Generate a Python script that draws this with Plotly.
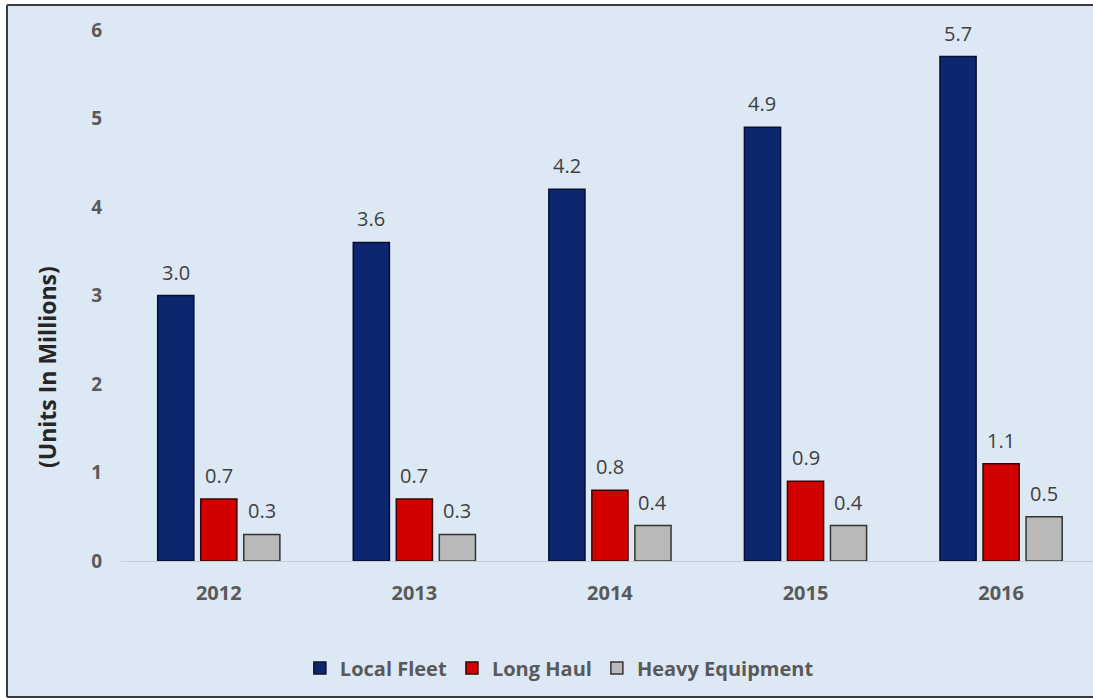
import plotly.graph_objects as go

# Yearly unit volumes, in millions
years = ["2012", "2013", "2014", "2015", "2016"]
local_fleet = [3.0, 3.6, 4.2, 4.9, 5.7]
long_haul = [0.7, 0.7, 0.8, 0.9, 1.1]
heavy_equipment = [0.3, 0.3, 0.4, 0.4, 0.5]
y_ticks = [0, 1, 2, 3, 4, 5, 6]

FONT = "Open Sans"
TICK_COLOR = "#595959"
LABEL_COLOR = "#404040"
PANEL_BG = "#dde8f5"
FRAME_COLOR = "#3c3c3c"

series = [
    ("Local Fleet", local_fleet, "#0c2670", "#06102e"),
    ("Long Haul", long_haul, "#d30000", "#3a0505"),
    ("Heavy Equipment", heavy_equipment, "#b9b9b9", "#333333"),
]

BARGAP = 0.34
BARGROUPGAP = 0.16

fig = go.Figure()
for name, values, fill, edge in series:
    fig.add_trace(go.Bar(
        name=name,
        x=years,
        y=values,
        marker=dict(color=fill, line=dict(color=edge, width=1.5)),
    ))

# Value labels above each bar, placed at the bar's slot centre in the group
slot = (1 - BARGAP) / len(series)
for s_idx, (name, values, _, _) in enumerate(series):
    offset = (s_idx - (len(series) - 1) / 2) * slot
    for i, v in enumerate(values):
        fig.add_annotation(
            x=i + offset, y=v, xref="x", yref="y",
            text=f"{v:.1f}", showarrow=False,
            yanchor="bottom", yshift=8,
            font=dict(family=FONT, size=20, color=LABEL_COLOR),
        )

W, H = 1093, 700
L, R, T, B = 121, 0, 30, 139
plot_w = W - L - R
plot_h = H - T - B


def px_x(px):
    return (px - L) / plot_w


def px_y(py):
    return (H - B - py) / plot_h


# Light-blue panel, framed on the left, top and bottom
fx0, fx1 = px_x(7), px_x(W)
fy0, fy1 = px_y(697), px_y(5)
fig.add_shape(
    type="rect", xref="paper", yref="paper",
    x0=fx0, x1=fx1, y0=fy0, y1=fy1,
    fillcolor=PANEL_BG, line=dict(width=0),
    layer="below",
)
for x0, y0, x1, y1 in [(fx0, fy0, fx0, fy1), (fx0, fy1, fx1, fy1), (fx0, fy0, fx1, fy0)]:
    fig.add_shape(
        type="line", xref="paper", yref="paper",
        x0=x0, y0=y0, x1=x1, y1=y1,
        line=dict(color=FRAME_COLOR, width=2),
        layer="below",
    )

# Axis title
fig.add_annotation(
    xref="paper", yref="paper",
    x=px_x(47), y=px_y(367),
    text="(Units In Millions)", textangle=-90, showarrow=False,
    xanchor="center", yanchor="middle",
    font=dict(family=FONT, size=23, color="#262626", weight="bold"),
)

fig.update_layout(
    width=W, height=H,
    margin=dict(l=L, r=R, t=T, b=B),
    paper_bgcolor="white",
    plot_bgcolor="rgba(0,0,0,0)",
    barmode="group",
    bargap=BARGAP,
    bargroupgap=BARGROUPGAP,
    font=dict(family=FONT),
    showlegend=True,
    legend=dict(
        orientation="h",
        x=0.451, xanchor="center",
        y=px_y(668), yanchor="middle",
        font=dict(family=FONT, size=20, color=TICK_COLOR, weight="bold"),
        bgcolor="rgba(0,0,0,0)",
        itemwidth=30,
        traceorder="normal",
    ),
    xaxis=dict(
        range=[-0.5, 4.47],
        showgrid=False,
        showline=True,
        linecolor="#c5ced8",
        linewidth=1,
        ticks="outside",
        ticklen=14,
        tickcolor="rgba(0,0,0,0)",
        tickfont=dict(family=FONT, size=20, color=TICK_COLOR, weight="bold"),
    ),
    yaxis=dict(
        range=[0, 6],
        tickvals=y_ticks,
        showgrid=False,
        zeroline=False,
        showline=False,
        ticks="outside",
        ticklen=14,
        tickcolor="rgba(0,0,0,0)",
        tickfont=dict(family=FONT, size=19, color=TICK_COLOR, weight="bold"),
    ),
)

fig.write_html("out.html")
